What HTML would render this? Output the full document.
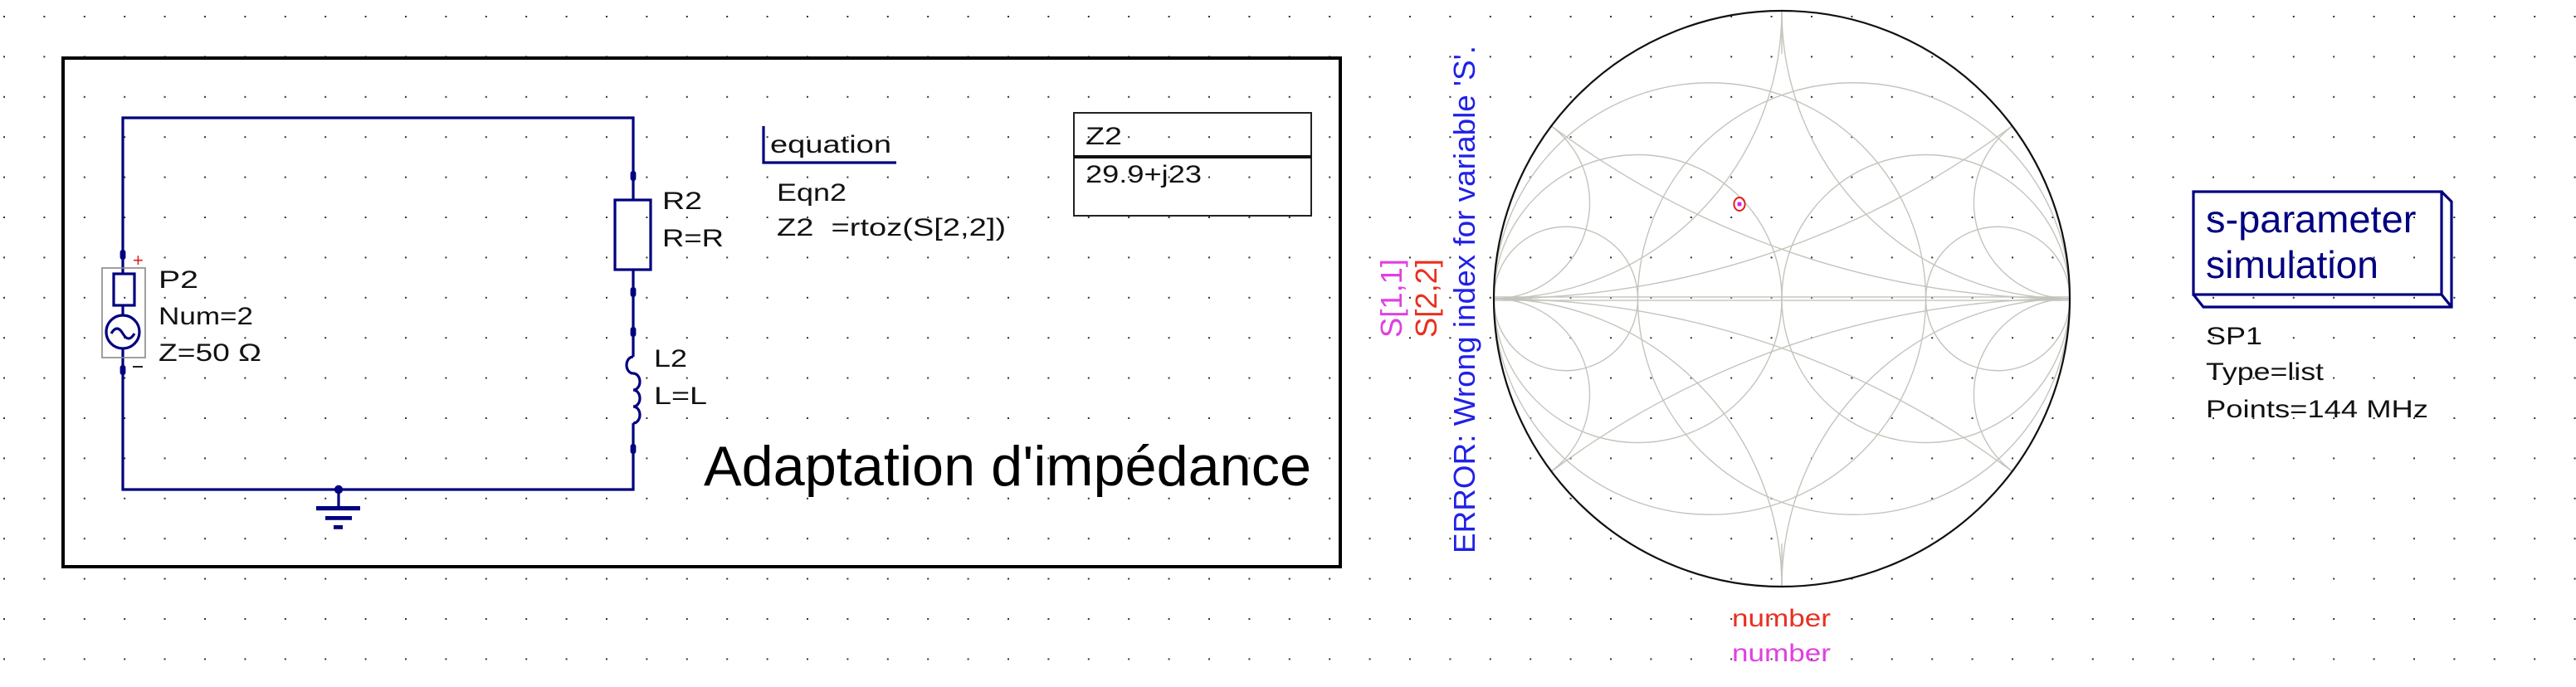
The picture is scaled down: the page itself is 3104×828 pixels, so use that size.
<!DOCTYPE html>
<html><head><meta charset="utf-8"><style>
html,body{margin:0;padding:0;background:#fff;width:3104px;height:828px;overflow:hidden;}
svg{display:block;}
text{font-family:"Liberation Sans",sans-serif;}
</style></head><body>
<svg width="3104" height="828" viewBox="0 0 1552 414" xmlns="http://www.w3.org/2000/svg">
<defs>
<pattern id="dots" x="2" y="9.5" width="24.2" height="24.2" patternUnits="userSpaceOnUse">
<rect x="0" y="0" width="1" height="1" fill="#333"/>
</pattern>
<clipPath id="cc"><circle cx="0" cy="0" r="1"/></clipPath>
</defs>
<rect width="1552" height="414" fill="#fff"/>
<rect width="1552" height="414" fill="url(#dots)"/>

<rect x="38" y="35" width="769.5" height="306.5" fill="none" stroke="#000" stroke-width="2"/>

<g stroke="#000080" stroke-width="1.6" fill="none">
<polyline points="74,153.5 74,71 381.5,71 381.5,120.5"/>
<line x1="381.5" y1="162.5" x2="381.5" y2="215"/>
<polyline points="74,223 74,295 381.5,295 381.5,255"/>
<rect x="370.5" y="120.5" width="21.5" height="42"/>
<path d="M381.5,215 a4,5 0 0 0 0,10 a4,5 0 0 1 0,10 a4,5 0 0 1 0,10 a4,5 0 0 1 0,10" />
<line x1="74" y1="153.5" x2="74" y2="165"/>
<rect x="68.5" y="165" width="12.5" height="19"/>
<line x1="74" y1="184" x2="74" y2="190"/>
<circle cx="74" cy="200" r="10"/>
<path d="M67,201 q3.5,-6 7,0 q3.5,6 7,0"/>
<line x1="74" y1="210" x2="74" y2="223"/>
<line x1="204" y1="295" x2="204" y2="306"/>
</g>
<rect x="61.5" y="161.5" width="26" height="54" fill="none" stroke="#888" stroke-width="0.8"/>
<g fill="#000080">
<circle cx="204" cy="295" r="2.6"/>
<rect x="190.5" y="305" width="26.5" height="2.6"/>
<rect x="196" y="311" width="16" height="2.4"/>
<rect x="201" y="316.5" width="5.5" height="2.4"/>
<rect x="72.3" y="150.5" width="3.4" height="6" rx="1.5"/>
<rect x="72.3" y="220" width="3.4" height="6" rx="1.5"/>
<rect x="379.8" y="103" width="3.4" height="6" rx="1.5"/>
<rect x="379.8" y="173" width="3.4" height="6" rx="1.5"/>
<rect x="379.8" y="197" width="3.4" height="6" rx="1.5"/>
<rect x="379.8" y="267.5" width="3.4" height="6" rx="1.5"/>
</g>
<text x="80" y="160.5" font-size="11" fill="#e02020">+</text>
<line x1="80" y1="221" x2="86" y2="221" stroke="#222" stroke-width="1"/>

<g font-size="15" fill="#111">
<text x="95.5" y="173.5" textLength="24" lengthAdjust="spacingAndGlyphs">P2</text>
<text x="95.5" y="195.5" textLength="57" lengthAdjust="spacingAndGlyphs">Num=2</text>
<text x="95.5" y="217.5" textLength="62" lengthAdjust="spacingAndGlyphs">Z=50 Ω</text>
<text x="399" y="126" textLength="24" lengthAdjust="spacingAndGlyphs">R2</text>
<text x="399" y="148.5" textLength="37" lengthAdjust="spacingAndGlyphs">R=R</text>
<text x="394" y="221" textLength="20" lengthAdjust="spacingAndGlyphs">L2</text>
<text x="394" y="243.5" textLength="32" lengthAdjust="spacingAndGlyphs">L=L</text>
</g>
<text x="424" y="292.5" font-size="34" fill="#000" textLength="366" lengthAdjust="spacingAndGlyphs">Adaptation d'impédance</text>

<polyline points="460,76 460,98 540,98" fill="none" stroke="#000080" stroke-width="1.6"/>
<text x="464" y="92" font-size="15" fill="#111" textLength="73" lengthAdjust="spacingAndGlyphs">equation</text>
<text x="468" y="121" font-size="15" fill="#111" textLength="42" lengthAdjust="spacingAndGlyphs">Eqn2</text>
<text x="468" y="142" font-size="15" fill="#111" textLength="138" lengthAdjust="spacingAndGlyphs">Z2&#160;&#160;=rtoz(S[2,2])</text>

<rect x="647" y="68" width="143" height="62" fill="none" stroke="#222" stroke-width="1"/>
<line x1="647" y1="94.5" x2="790" y2="94.5" stroke="#111" stroke-width="2"/>
<text x="654" y="87" font-size="15" fill="#111" textLength="22" lengthAdjust="spacingAndGlyphs">Z2</text>
<text x="654" y="110" font-size="15" fill="#111" textLength="70" lengthAdjust="spacingAndGlyphs">29.9+j23</text>

<g transform="translate(1073.5,180) scale(173.5)">
<g clip-path="url(#cc)" fill="none" stroke="#c4c4bc" stroke-width="1.4">
<circle cx="0.25" cy="0" r="0.75" vector-effect="non-scaling-stroke"/>
<circle cx="0.5" cy="0" r="0.5" vector-effect="non-scaling-stroke"/>
<circle cx="0.75" cy="0" r="0.25" vector-effect="non-scaling-stroke"/>
<circle cx="-0.25" cy="0" r="0.75" vector-effect="non-scaling-stroke"/>
<circle cx="-0.5" cy="0" r="0.5" vector-effect="non-scaling-stroke"/>
<circle cx="-0.75" cy="0" r="0.25" vector-effect="non-scaling-stroke"/>
<circle cx="1" cy="3" r="3" vector-effect="non-scaling-stroke"/>
<circle cx="1" cy="-3" r="3" vector-effect="non-scaling-stroke"/>
<circle cx="1" cy="1" r="1" vector-effect="non-scaling-stroke"/>
<circle cx="1" cy="-1" r="1" vector-effect="non-scaling-stroke"/>
<circle cx="1" cy="0.333" r="0.333" vector-effect="non-scaling-stroke"/>
<circle cx="1" cy="-0.333" r="0.333" vector-effect="non-scaling-stroke"/>
<circle cx="-1" cy="3" r="3" vector-effect="non-scaling-stroke"/>
<circle cx="-1" cy="-3" r="3" vector-effect="non-scaling-stroke"/>
<circle cx="-1" cy="1" r="1" vector-effect="non-scaling-stroke"/>
<circle cx="-1" cy="-1" r="1" vector-effect="non-scaling-stroke"/>
<circle cx="-1" cy="0.333" r="0.333" vector-effect="non-scaling-stroke"/>
<circle cx="-1" cy="-0.333" r="0.333" vector-effect="non-scaling-stroke"/>
<line x1="-1" y1="-0.006" x2="1" y2="-0.006" vector-effect="non-scaling-stroke"/>
<line x1="-1" y1="0.006" x2="1" y2="0.006" vector-effect="non-scaling-stroke"/>
<line x1="0" y1="-1" x2="0" y2="-0.85" vector-effect="non-scaling-stroke"/>
<line x1="0" y1="1" x2="0" y2="0.85" vector-effect="non-scaling-stroke"/>
</g>
<circle cx="0" cy="0" r="1" fill="none" stroke="#111" stroke-width="2.2" vector-effect="non-scaling-stroke"/>
</g>
<ellipse cx="1048" cy="123" rx="3.3" ry="4" fill="none" stroke="#e02020" stroke-width="1"/>
<rect x="1046.8" y="121.8" width="2.4" height="2.4" fill="#e020e0"/>

<text transform="translate(844.5,203.5) rotate(-90)" font-size="18" fill="#e040e0" textLength="47.5" lengthAdjust="spacingAndGlyphs">S[1,1]</text>
<text transform="translate(865.5,203.5) rotate(-90)" font-size="18" fill="#e83020" textLength="47.5" lengthAdjust="spacingAndGlyphs">S[2,2]</text>
<text transform="translate(888.5,333.5) rotate(-90)" font-size="18" fill="#2020e8" textLength="306" lengthAdjust="spacingAndGlyphs">ERROR: Wrong index for variable 'S'.</text>

<text x="1043.5" y="377.5" font-size="15" fill="#e83020" textLength="59.5" lengthAdjust="spacingAndGlyphs">number</text>
<text x="1043.5" y="398.5" font-size="15" fill="#e040e0" textLength="59.5" lengthAdjust="spacingAndGlyphs">number</text>

<g fill="none" stroke="#000080" stroke-width="1.6">
<rect x="1321.5" y="115.5" width="149.5" height="62"/>
<polyline points="1471,115.5 1477,121.5 1477,185 1327.5,185 1321.5,177.5"/>
<line x1="1471" y1="177.5" x2="1477" y2="185"/>
</g>
<text x="1329" y="140" font-size="23" fill="#000080" textLength="126.7" lengthAdjust="spacingAndGlyphs">s-parameter</text>
<text x="1329" y="167.5" font-size="23" fill="#000080" textLength="104" lengthAdjust="spacingAndGlyphs">simulation</text>
<text x="1329" y="207.5" font-size="15" fill="#111" textLength="34" lengthAdjust="spacingAndGlyphs">SP1</text>
<text x="1329" y="229" font-size="15" fill="#111" textLength="71" lengthAdjust="spacingAndGlyphs">Type=list</text>
<text x="1329" y="251.5" font-size="15" fill="#111" textLength="134" lengthAdjust="spacingAndGlyphs">Points=144 MHz</text>
</svg>
</body></html>
